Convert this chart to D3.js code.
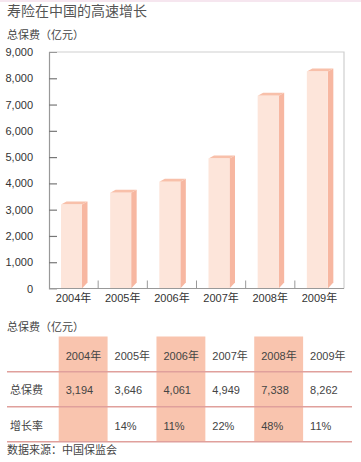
<!DOCTYPE html>
<html><head><meta charset="utf-8">
<script src="https://cdn.jsdelivr.net/npm/d3@7"></script>
<style>
html,body{margin:0;padding:0;background:#fff;}
svg{display:block;font-family:"Liberation Sans",Arial,"Noto Sans CJK SC",sans-serif;}
</style></head>
<body><svg id="c" width="361" height="462"></svg>
<script>
const title = "寿险在中国的高速增长";
const unitLabel = "总保费（亿元）";
const years = ["2004年","2005年","2006年","2007年","2008年","2009年"];
const premiums = [3194,3646,4061,4949,7338,8262];
const premiumText = ["3,194","3,646","4,061","4,949","7,338","8,262"];
const growthText = ["","14%","11%","22%","48%","11%"];
const rowLabels = ["总保费","增长率"];
const highlightCols = [0,2,4];
const yTicks = [0,1000,2000,3000,4000,5000,6000,7000,8000,9000];
const source = "数据来源：中国保监会";

(function(){
const svg = d3.select("#c");
svg.append("rect").attr("x",0).attr("y",0).attr("width",361).attr("height",2).attr("fill","#f6e6ef");

svg.append("text").attr("x",7).attr("y",16).attr("font-size",14).attr("fill","#555").text(title);
svg.append("text").attr("x",7).attr("y",39).attr("font-size",11).attr("fill","#444").text(unitLabel);

const pL=49,pR=344,pT=52,pB=288.5;
const x = d3.scaleBand().domain(years).range([pL,pR]).padding(0);
const y = d3.scaleLinear().domain([0,9000]).range([pB,pT]);

svg.append("path").attr("d",`M${pL},${pT}H${pR}V${pB}`).attr("fill","none").attr("stroke","#cfcfcf").attr("stroke-width",1.2);

const bw=21, side=5.5, depth=3, off=12;
const g = svg.append("g");
years.forEach((yr,i)=>{
  const x0 = x(yr)+off, yt = y(premiums[i]);
  g.append("path").attr("d",`M${x0+bw},${yt} L${x0+bw+side},${yt-depth} L${x0+bw+side},${pB-depth-3} L${x0+bw},${pB} Z`).attr("fill","#f7b7a1");
  g.append("path").attr("d",`M${x0},${yt} L${x0+side},${yt-depth} L${x0+bw+side},${yt-depth} L${x0+bw},${yt} Z`).attr("fill","#f8c0aa");
  g.append("rect").attr("x",x0).attr("y",yt).attr("width",bw).attr("height",pB-yt).attr("fill","#fde5da");
});

const yAxis = d3.axisRight(y).tickValues(yTicks).tickSize(8).tickFormat("");
const ya = svg.append("g").attr("transform",`translate(${pL},0)`).call(yAxis);
ya.select(".domain").attr("stroke","#999").attr("stroke-width",1.2);
ya.selectAll(".tick line").attr("stroke","#777").attr("stroke-width",1.2);
ya.selectAll(".tick").filter(d=>d===0||d===9000).select("line").remove();
svg.append("g").selectAll("text").data(yTicks).join("text")
  .attr("x",33).attr("y",d=>y(d)+4).attr("text-anchor","end").attr("font-size",11).attr("fill","#333")
  .text(d=>d3.format(",")(d));

svg.append("line").attr("x1",pL).attr("x2",pR).attr("y1",pB).attr("y2",pB).attr("stroke","#999").attr("stroke-width",1.2);
years.slice(1).forEach(yr=>{
  svg.append("line").attr("x1",x(yr)).attr("x2",x(yr)).attr("y1",pB).attr("y2",pB-8).attr("stroke","#999").attr("stroke-width",1);
});
svg.append("g").selectAll("text").data(years).join("text")
  .attr("x",d=>x(d)+x.bandwidth()/2).attr("y",302).attr("text-anchor","middle").attr("font-size",11).attr("fill","#333").text(d=>d);

svg.append("text").attr("x",7).attr("y",331).attr("font-size",11).attr("fill","#444").text(unitLabel);
const tx = d3.scaleBand().domain(years).range([58.7,352]).padding(0);
highlightCols.forEach(i=>{
  svg.append("rect").attr("x",tx(years[i])).attr("y",336.5).attr("width",tx.bandwidth()).attr("height",105).attr("fill","#f9c4ae");
});
[371.7,406.7,441.7].forEach(ly=>{
  svg.append("line").attr("x1",7).attr("x2",352).attr("y1",ly).attr("y2",ly).attr("stroke","#e0a09c").attr("stroke-width",1.5);
});
const rowY=[359.5,394,430];
svg.append("g").selectAll("text").data(years).join("text")
  .attr("x",d=>tx(d)+7).attr("y",rowY[0]).attr("font-size",11).attr("fill","#444").text(d=>d);
svg.append("g").selectAll("text").data(premiumText).join("text")
  .attr("x",(d,i)=>tx(years[i])+7).attr("y",rowY[1]).attr("font-size",11).attr("fill","#444").text(d=>d);
svg.append("g").selectAll("text").data(growthText).join("text")
  .attr("x",(d,i)=>tx(years[i])+7).attr("y",rowY[2]).attr("font-size",11).attr("fill","#444").text(d=>d);
rowLabels.forEach((t,i)=>{
  svg.append("text").attr("x",10).attr("y",rowY[i+1]).attr("font-size",11).attr("fill","#444").text(t);
});
svg.append("text").attr("x",7).attr("y",454).attr("font-size",11).attr("fill","#444").text(source);
})();
</script></body></html>
